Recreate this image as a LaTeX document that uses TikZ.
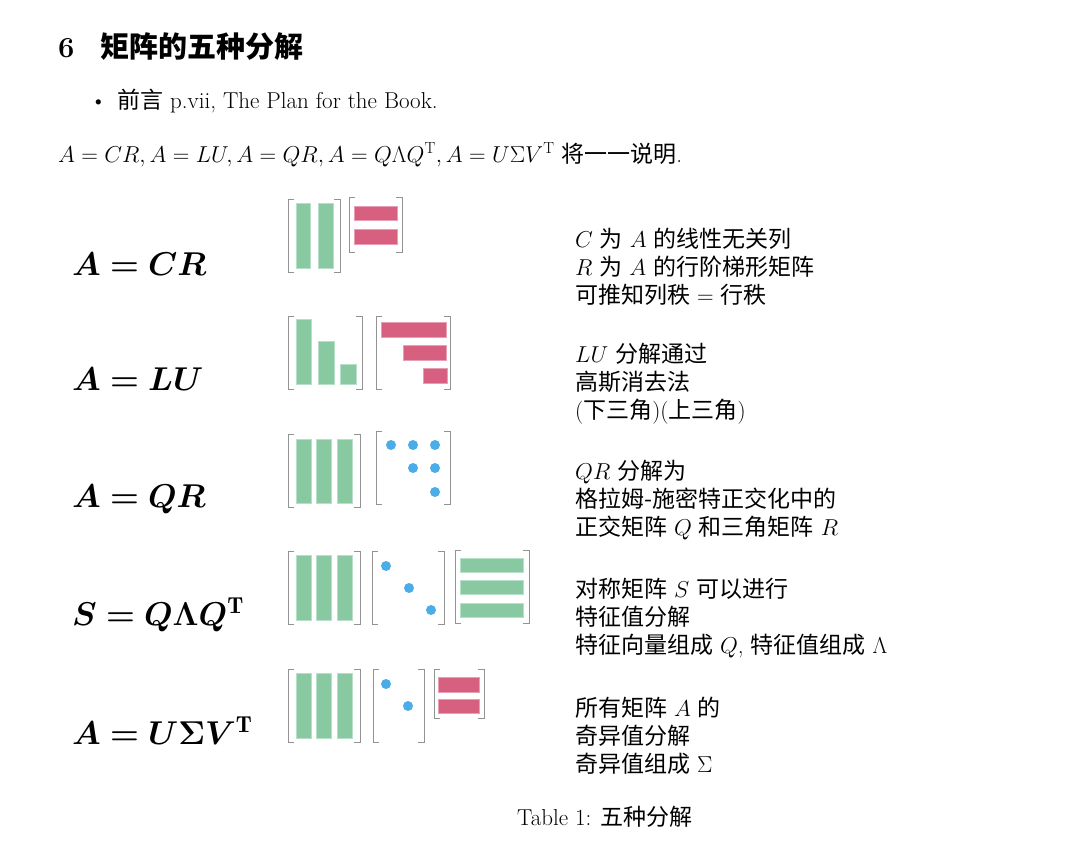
\RequirePackage{fix-cm}
\documentclass[tikz,border=0pt]{standalone}
\usepackage{amsmath,bm}
\usepackage{fontspec}
\newfontfamily\cjk{Noto Sans CJK SC}
\definecolor{grn}{HTML}{88C9A1}
\definecolor{rd}{HTML}{D75F80}
\definecolor{bl}{HTML}{4AADE8}
\begin{document}
\begin{tikzpicture}[x=1pt,y=-1pt,
  txt/.style={anchor=base west,inner sep=0pt,font=\fontsize{23}{27}\selectfont},
  big/.style={anchor=base west,inner sep=0pt,font=\fontsize{33}{38}\selectfont},
  gb/.style={fill=grn,draw=grn!60!white,line width=0.6pt},
  rb/.style={fill=rd,draw=rd!60!white,line width=0.6pt},
  dt/.style={fill=bl,draw=none},
  brk/.style={draw=gray!85,line width=1pt}]
\useasboundingbox (0,0) rectangle (1080,844);
\newcommand\mybrk[4]{%
 \draw[brk] (#1+6,#2)--(#1,#2)--(#1,#4)--(#1+6,#4);
 \draw[brk] (#3-6,#2)--(#3,#2)--(#3,#4)--(#3-6,#4);}
\node[anchor=base west,inner sep=0pt,font=\fontsize{29}{33}\selectfont\bfseries] (title) at (58,57) {6\hspace{26pt}{\cjk 矩阵的五种分解}};
\node[txt] (bul) at (90,108) {\textbullet};
\node[txt] (pre) at (117,108) {{\cjk 前言} p.vii, The Plan for the Book.};
\node[txt] (eq) at (58,162) {$A=CR, A=LU, A=QR, A=Q\Lambda Q^{\mathrm{T}}, A=U\Sigma V^{\mathrm{T}}$ {\cjk 将一一说明}.};
% row 1
\node[big] (f1) at (72,275) {$\bm{A=CR}$};
\mybrk{288}{199}{340}{272}
\fill[gb] (296,203) rectangle (310,268); \fill[gb] (318,203) rectangle (333,268);
\mybrk{349}{197}{402}{252}
\fill[rb] (354,206) rectangle (397,220); \fill[rb] (354,229) rectangle (397,244);
\node[txt] (t11) at (575,247) {$C$ {\cjk 为} $A$ {\cjk 的线性无关列}};
\node[txt] (t12) at (575,275) {$R$ {\cjk 为} $A$ {\cjk 的行阶梯形矩阵}};
\node[txt] (t13) at (575,303) {{\cjk 可推知列秩} $=$ {\cjk 行秩}};
% row 2
\node[big] (f2) at (72,390) {$\bm{A=LU}$};
\mybrk{288}{316}{362}{389}
\fill[gb] (296,319) rectangle (311,384); \fill[gb] (318,341) rectangle (334,384); \fill[gb] (340,364) rectangle (356,384);
\mybrk{376}{316}{450}{389}
\fill[rb] (381,322) rectangle (446,337); \fill[rb] (403,345) rectangle (446,360); \fill[rb] (423,368) rectangle (447,383);
\node[txt] (t21) at (575,362) {$LU$ {\cjk 分解通过}};
\node[txt] (t22) at (575,390) {{\cjk 高斯消去法}};
\node[txt] (t23) at (575,418) {({\cjk 下三角})({\cjk 上三角})};
% row 3
\node[big] (f3) at (72,507) {$\bm{A=QR}$};
\mybrk{288}{434}{360}{507}
\foreach \x in {296,316,337} \fill[gb] (\x,439) rectangle (\x+15,503);
\mybrk{376}{431}{450}{504}
\foreach \p in {(391,445),(413,445),(435,445),(413,468),(435,468),(435,492)} \fill[dt] \p circle (5);
\node[txt] (t31) at (575,479) {$QR$ {\cjk 分解为}};
\node[txt] (t32) at (575,507) {{\cjk 格拉姆-施密特正交化中的}};
\node[txt] (t33) at (575,535) {{\cjk 正交矩阵} $Q$ {\cjk 和三角矩阵} $R$};
% row 4
\node[big] (f4) at (72,625) {$\bm{S=Q\Lambda Q^{\mathrm{T}}}$};
\mybrk{288}{551}{360}{624}
\foreach \x in {296,316,337} \fill[gb] (\x,555) rectangle (\x+15,620);
\mybrk{372}{551}{444}{624}
\foreach \p in {(386,566),(409,588),(431,610)} \fill[dt] \p circle (5);
\mybrk{455}{550}{529}{623}
\foreach \y in {558,580,603} \fill[gb] (460,\y) rectangle (523,\y+14);
\node[txt] (t41) at (575,597) {{\cjk 对称矩阵} $S$ {\cjk 可以进行}};
\node[txt] (t42) at (575,625) {{\cjk 特征值分解}};
\node[txt] (t43) at (575,653) {{\cjk 特征向量组成} $Q$, {\cjk 特征值组成} $\Lambda$};
% row 5
\node[big] (f5) at (72,744) {$\bm{A=U\Sigma V^{\mathrm{T}}}$};
\mybrk{288}{669}{360}{742}
\foreach \x in {296,316,337} \fill[gb] (\x,673) rectangle (\x+15,738);
\mybrk{373}{669}{424}{742}
\foreach \p in {(386,684),(408,706)} \fill[dt] \p circle (5);
\mybrk{434}{669}{484}{718}
\fill[rb] (438,677) rectangle (479,692); \fill[rb] (438,699) rectangle (479,713);
\node[txt] (t51) at (575,716) {{\cjk 所有矩阵} $A$ {\cjk 的}};
\node[txt] (t52) at (575,744) {{\cjk 奇异值分解}};
\node[txt] (t53) at (575,772) {{\cjk 奇异值组成} $\Sigma$};
\node[txt] (cap) at (517,825) {Table 1: {\cjk 五种分解}};
\end{tikzpicture}
\end{document}
